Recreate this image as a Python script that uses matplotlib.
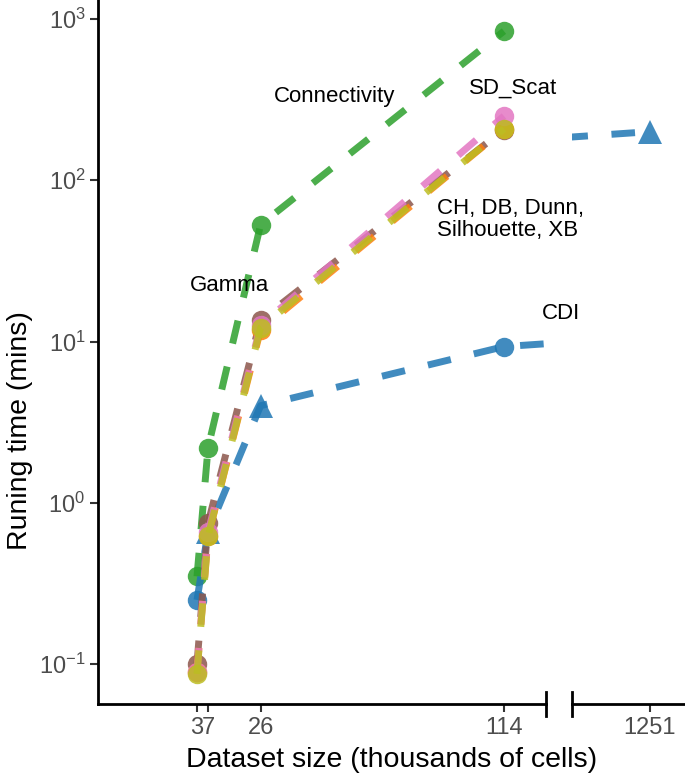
import matplotlib
matplotlib.use('Agg')
import matplotlib.pyplot as plt
from matplotlib.lines import Line2D
from matplotlib.ticker import LogLocator, NullLocator, FixedLocator, FixedFormatter

plt.rcParams['font.family'] = ['Liberation Sans', 'DejaVu Sans']
plt.rcParams['mathtext.default'] = 'regular'

# dataset sizes (thousands of cells)
tick_sizes = [3, 7, 26, 114, 1251]
tick_labels = ['3', '7', '26', '114', '1251']

# running times (mins)
cdi_sizes = [3, 7, 26, 114, 1251]
cdi_time = [0.25, 0.66, 4.0, 9.3, 200]
cdi_shapes = ['o', '^', '^', 'o', '^']

other_sizes = [3, 7, 26, 114]
conn_time = [0.35, 2.2, 53, 840]
gamma_time = [0.10, 0.75, 13.6, 206]
ch_time = [0.09, 0.62, 11.8, 207]
sdscat_time = [0.09, 0.66, 12.6, 250]
sil_time = [0.087, 0.62, 12.2, 208]

W, H = 685, 777
AXIS_Y = 704
LINE_KW = dict(lw=5, dashes=(3.4, 3.4), alpha=0.85, markersize=14, markeredgewidth=0)


def draw_series(ax):
    ax.plot(other_sizes, conn_time, color='#2ca02c', marker='o', **LINE_KW)
    ax.plot(cdi_sizes, cdi_time, color='#1f77b4', **LINE_KW)
    for x, y, m in zip(cdi_sizes, cdi_time, cdi_shapes):
        ax.plot([x], [y], color='#1f77b4', marker=m, linestyle='none',
                markersize=14 if m == 'o' else 17, markeredgewidth=0, alpha=0.85)
    ax.plot(other_sizes, gamma_time, color='#8c564b', marker='o', **LINE_KW)
    ax.plot(other_sizes, ch_time, color='#ff7f0e', marker='o', **LINE_KW)
    ax.plot(other_sizes, sdscat_time, color='#e377c2', marker='o', **LINE_KW)
    ax.plot(other_sizes, sil_time, color='#bcbd22', marker='o', **LINE_KW)


fig = plt.figure(figsize=(W / 100, H / 100), dpi=100)
ax = fig.add_axes([98 / W, (H - AXIS_Y) / H, (545.7 - 98) / W, AXIS_Y / H])
ax2 = fig.add_axes([572 / W, (H - AXIS_Y) / H, (685 - 572) / W, AXIS_Y / H])
ax2.patch.set_visible(False)

for a in (ax, ax2):
    draw_series(a)
    a.set_yscale('log')
    a.set_ylim(0.0566, 1310)
    a.spines['top'].set_visible(False)
    a.spines['right'].set_visible(False)
    for s in a.spines.values():
        s.set_linewidth(2)
    a.tick_params(axis='both', length=6, width=1.5, colors='#333333',
                  labelcolor='#4d4d4d', labelsize=17, pad=3)
    a.yaxis.set_major_locator(LogLocator(base=10, subs=(1.0,)))
    a.yaxis.set_minor_locator(NullLocator())
    a.xaxis.set_minor_locator(NullLocator())

ax.set_xlim(-32.8, 129.1)
ax2.set_xlim(1222.8, 1263.7)

ax.xaxis.set_major_locator(FixedLocator(tick_sizes[:4]))
ax.xaxis.set_major_formatter(FixedFormatter(tick_labels[:4]))
ax2.xaxis.set_major_locator(FixedLocator(tick_sizes[4:]))
ax2.xaxis.set_major_formatter(FixedFormatter(tick_labels[4:]))

ax2.spines['left'].set_visible(False)
ax2.tick_params(axis='y', left=False, labelleft=False)

# break marks on the x axis
for a, xpos in ((ax, 1.0), (ax2, 0.0)):
    a.add_line(Line2D([xpos, xpos], [-12 / AXIS_Y, 12 / AXIS_Y], transform=a.transAxes,
                      color='black', lw=2, clip_on=False))

# annotations
txt = dict(fontsize=16, color='black', clip_on=False, zorder=10)
ax.text(52.9, 330, 'Connectivity', ha='center', va='center', **txt)
ax.text(117.2, 374, 'SD_Scat', ha='center', va='center', **txt)
ax.text(89.8, 57, 'CH, DB, Dunn,\nSilhouette, XB', ha='left', va='center',
        linespacing=1.1, **txt)
ax.text(14.6, 22.3, 'Gamma', ha='center', va='center', **txt)
ax.text(134.6, 15, 'CDI', ha='center', va='center', **txt)

fig.text(20 / W, 1 - 431 / H, 'Runing time (mins)', rotation=90,
         ha='center', va='center', fontsize=20.5)
fig.text(392 / W, 1 - 760 / H, 'Dataset size (thousands of cells)',
         ha='center', va='center', fontsize=20.5)

fig.savefig('out.png', dpi=100)
